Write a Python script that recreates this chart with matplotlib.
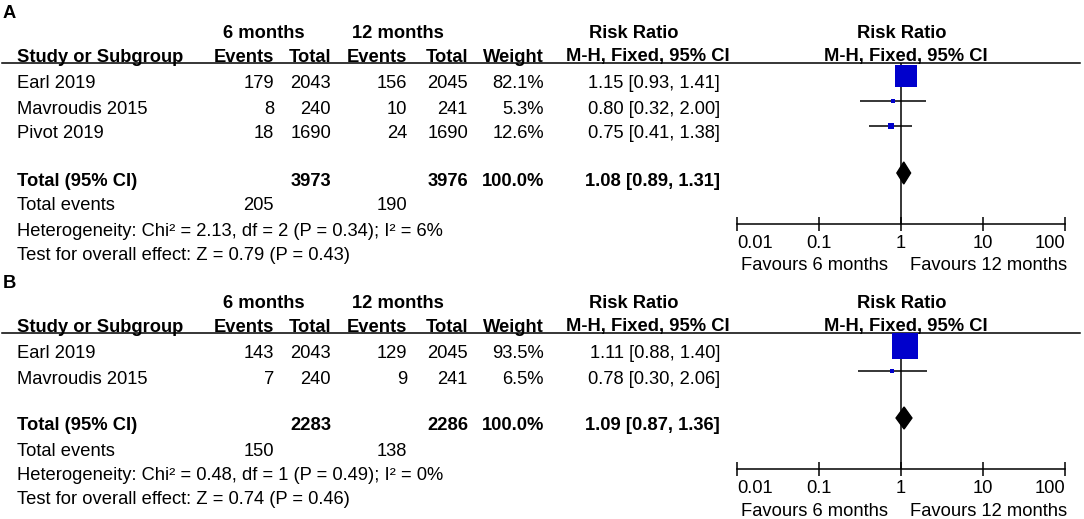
import numpy as np
import matplotlib.pyplot as plt
from matplotlib.ticker import NullLocator

plt.rcParams['font.family'] = ['Liberation Sans', 'DejaVu Sans']

# Panel A data
studies_a = ['Earl 2019', 'Mavroudis 2015', 'Pivot 2019']
events6_a = [179, 8, 18]
total6_a = [2043, 240, 1690]
events12_a = [156, 10, 24]
total12_a = [2045, 241, 1690]
weight_a = [82.1, 5.3, 12.6]
rr_a = [1.15, 0.80, 0.75]
lo_a = [0.93, 0.32, 0.41]
hi_a = [1.41, 2.00, 1.38]
sums_a = [205, 3973, 190, 3976]          # events6, total6, events12, total12
pooled_a = [1.08, 0.89, 1.31]
het_a = 'Heterogeneity: Chi² = 2.13, df = 2 (P = 0.34); I² = 6%'
test_a = 'Test for overall effect: Z = 0.79 (P = 0.43)'

# Panel B data
studies_b = ['Earl 2019', 'Mavroudis 2015']
events6_b = [143, 7]
total6_b = [2043, 240]
events12_b = [129, 9]
total12_b = [2045, 241]
weight_b = [93.5, 6.5]
rr_b = [1.11, 0.78]
lo_b = [0.88, 0.30]
hi_b = [1.40, 2.06]
sums_b = [150, 2283, 138, 2286]
pooled_b = [1.09, 0.87, 1.36]
het_b = 'Heterogeneity: Chi² = 0.48, df = 1 (P = 0.49); I² = 0%'
test_b = 'Test for overall effect: Z = 0.74 (P = 0.46)'

ticks = [0.01, 0.1, 1, 10, 100]
tick_labels = ['0.01', '0.1', '1', '10', '100']

W, H = 1084, 519
FS = 13.2
BLUE = '#0000cc'
LW = 1.1

fig = plt.figure(figsize=(W / 100, H / 100), dpi=100)
ax0 = fig.add_axes([0, 0, 1, 1])
ax0.set_xlim(0, W)
ax0.set_ylim(H, 0)
ax0.axis('off')

# column positions (pixels)
X_NAME = 17
X_EV6, X_TOT6, X_EV12, X_TOT12, X_W, X_CI = 274, 331, 407, 468, 544, 720
X_LO, X_HI = 737, 1065


def txt(x, y, s, ha='left', bold=False):
    ax0.text(x, y + 6.5, s, ha=ha, va='baseline', fontsize=FS,
             fontweight='bold' if bold else 'normal')


def ci_str(v):
    return f'{v[0]:.2f} [{v[1]:.2f}, {v[2]:.2f}]'


def panel(top, letter, studies, ev6, tot6, ev12, tot12, weight, rr, lo, hi,
          sums, pooled, het, test):
    txt(3, top + 12, letter, bold=True)
    # headers
    txt(264, top + 32, '6 months', ha='center', bold=True)
    txt(398, top + 32, '12 months', ha='center', bold=True)
    txt(634, top + 32, 'Risk Ratio', ha='center', bold=True)
    txt(902, top + 32, 'Risk Ratio', ha='center', bold=True)
    txt(X_NAME, top + 55, 'Study or Subgroup', bold=True)
    txt(X_EV6, top + 55, 'Events', ha='right', bold=True)
    txt(X_TOT6, top + 55, 'Total', ha='right', bold=True)
    txt(X_EV12, top + 55, 'Events', ha='right', bold=True)
    txt(X_TOT12, top + 55, 'Total', ha='right', bold=True)
    txt(X_W, top + 55, 'Weight', ha='right', bold=True)
    txt(648, top + 55, 'M-H, Fixed, 95% CI', ha='center', bold=True)
    txt(906, top + 55, 'M-H, Fixed, 95% CI', ha='center', bold=True)
    y_line = top + 63
    ax0.plot([2, 1080], [y_line, y_line], color='black', lw=LW)

    # study rows
    rows = [top + 82 + 25 * i for i in range(len(studies))]
    for i, y in enumerate(rows):
        txt(X_NAME, y, studies[i])
        txt(X_EV6, y, str(ev6[i]), ha='right')
        txt(X_TOT6, y, str(tot6[i]), ha='right')
        txt(X_EV12, y, str(ev12[i]), ha='right')
        txt(X_TOT12, y, str(tot12[i]), ha='right')
        txt(X_W, y, f'{weight[i]:.1f}%', ha='right')
        txt(X_CI, y, ci_str([rr[i], lo[i], hi[i]]), ha='right')

    y_tot = rows[-1] + 47
    txt(X_NAME, y_tot, 'Total (95% CI)', bold=True)
    txt(X_TOT6, y_tot, str(sums[1]), ha='right', bold=True)
    txt(X_TOT12, y_tot, str(sums[3]), ha='right', bold=True)
    txt(X_W, y_tot, f'{sum(weight):.1f}%', ha='right', bold=True)
    txt(X_CI, y_tot, ci_str(pooled), ha='right', bold=True)
    txt(X_NAME, y_tot + 25, 'Total events')
    txt(X_EV6, y_tot + 25, str(sums[0]), ha='right')
    txt(X_EV12, y_tot + 25, str(sums[2]), ha='right')
    txt(X_NAME, y_tot + 50, het)
    txt(X_NAME, y_tot + 74, test)

    # forest plot
    y_axis = y_tot + 45
    ax = fig.add_axes([X_LO / W, 1 - y_axis / H, (X_HI - X_LO) / W, (y_axis - y_line) / H])
    ax.set_xscale('log')
    ax.set_xlim(0.01, 100)
    ax.set_ylim(y_axis, y_line)
    ax.patch.set_visible(False)
    for s in ['top', 'left', 'right']:
        ax.spines[s].set_visible(False)
    ax.spines['bottom'].set_linewidth(LW)
    ax.set_yticks([])
    ax.xaxis.set_minor_locator(NullLocator())
    ax.set_xticks(ticks)
    ax.set_xticklabels(tick_labels)
    ax.tick_params(axis='x', direction='inout', length=9.4, width=LW, pad=3.5, labelsize=FS)
    labs = ax.get_xticklabels()
    labs[0].set_ha('left')
    labs[-1].set_ha('right')
    ax.axvline(1, color='black', lw=LW, zorder=1)

    for i, y in enumerate(rows):
        ym = y - 6
        ax.hlines(ym, lo[i], hi[i], color='black', lw=LW, zorder=2)
        side = 23 * (weight[i] / 82.1) ** 0.7
        ax.plot([rr[i]], [ym], marker='s', ms=side * 0.72, color=BLUE,
                mew=0, linestyle='none', zorder=3, clip_on=False)
    yd = y_tot - 6
    ax.fill([pooled[1], pooled[0], pooled[2], pooled[0]], [yd, yd - 11, yd, yd + 11],
            color='black', zorder=4, clip_on=False)

    txt(888, y_axis + 40, 'Favours 6 months', ha='right')
    txt(910, y_axis + 40, 'Favours 12 months')


panel(0, 'A', studies_a, events6_a, total6_a, events12_a, total12_a, weight_a,
      rr_a, lo_a, hi_a, sums_a, pooled_a, het_a, test_a)
panel(270, 'B', studies_b, events6_b, total6_b, events12_b, total12_b, weight_b,
      rr_b, lo_b, hi_b, sums_b, pooled_b, het_b, test_b)

plt.savefig('out.png', dpi=100)
